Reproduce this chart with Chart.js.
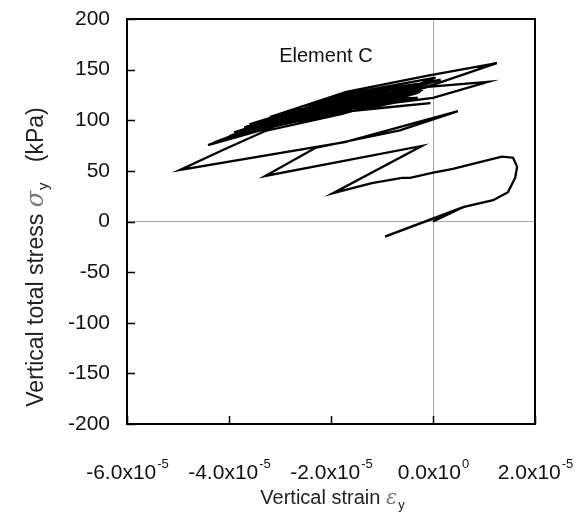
<!DOCTYPE html>
<html>
<head>
<meta charset="utf-8">
<script src="https://cdn.jsdelivr.net/npm/chart.js@4.4.0/dist/chart.umd.min.js"></script>
<style>
  html, body { margin: 0; padding: 0; background: #fff; }
</style>
</head>
<body>
<canvas id="chart" width="585" height="514"></canvas>
<script>
// vertical strain (x) and vertical total stress in kPa (y)
const strain = [
	0, 0.59e-5, -0.94e-5, 0.58e-5, -0.92e-5, 0.61e-5,
	1.18e-5, 1.47e-5, 1.61e-5, 1.65e-5, 1.57e-5, 1.35e-5, 0.86e-5, 0.39e-5,
	-0.02e-5, -0.45e-5, -0.61e-5, -1.2e-5, -1.96e-5,
	-0.22e-5, -3.29e-5, -2.31e-5, -0.65e-5, 0.49e-5, -1.73e-5,
	-4.96e-5, -4.12e-5, -3.29e-5,
	-1.8e-5, -0.3e-5, -1.9e-5, -3.8e-5,
	-2.0e-5, -0.1e-5, -2.2e-5, -4.41e-5,
	-2.6e-5, 0.1e-5, -1.5e-5, -3.5e-5,
	-1.7e-5, -0.6e-5, -2.0e-5, -3.0e-5,
	-1.2e-5, 0.05e-5, -1.8e-5, -4.0e-5,
	-2.2e-5, -0.2e-5, -1.4e-5, -2.8e-5,
	-1.5e-5, -0.05e-5, -2.0e-5, -3.3e-5,
	-1.6e-5, 0, 1.08e-5, -0.1e-5, -1.8e-5, -3.6e-5,
	-1.9e-5, 0, 1.25e-5, -0.1e-5, -1.7e-5, -3.2e-5,
	-2.0e-5, -0.4e-5, -2.4e-5,
	-1.0e-5, 0.15e-5, -2.0e-5, -3.9e-5,
	-1.5e-5, -0.5e-5, -2.6e-5, -3.4e-5,
	-2.1e-5, -0.3e-5, -1.2e-5, -2.9e-5,
	-1.0e-5, -0.15e-5, -1.6e-5, -3.7e-5,
	-2.5e-5, -0.7e-5, -2.3e-5, -4.2e-5,
	-2.2e-5, -0.8e-5, -2.7e-5, -3.6e-5,
	-1.3e-5, -0.4e-5, -1.9e-5, -3.1e-5,
	-1.1e-5, -0.25e-5, -2.4e-5, -4.3e-5,
	-2.8e-5, -0.9e-5, -1.8e-5, -3.4e-5,
	-2.0e-5
];
const stress = [
	0, 14, -15, 14, -14.5, 14.5,
	21, 29, 43, 54, 63, 64, 58, 52,
	48, 43, 43, 38, 28,
	74.6, 45, 72.6, 90, 109, 78.5,
	51, 70.6, 89.4,
	106, 127, 116, 86,
	108, 133, 117, 75.5,
	101, 139, 127, 95,
	111, 121, 113, 98,
	118, 142, 125, 84,
	104, 130, 122, 104,
	110, 117, 107, 92,
	112, 122, 138, 133, 120, 90,
	111, 135, 156.5, 144, 128, 103,
	112, 126, 106,
	128, 140, 118, 88,
	116, 131, 108, 99,
	110, 122, 121, 106,
	124, 137, 126, 93,
	100, 118, 113, 80,
	108, 126, 110, 96,
	120, 134, 121, 101,
	119, 128, 114, 78,
	99, 121, 116, 94,
	110
];

const xTicks = [-6e-5, -4e-5, -2e-5, 0, 2e-5];
const xTickBase = ['-6.0x10', '-4.0x10', '-2.0x10', '0.0x10', '2.0x10'];
const xTickExp = ['-5', '-5', '-5', '0', '-5'];
const yTicks = [-200, -150, -100, -50, 0, 50, 100, 150, 200];

const FONT = "'Liberation Sans', Arial, sans-serif";

const points = strain.map((v, i) => ({ x: v, y: stress[i] }));

function zeroGrid(ctx) {
	return ctx.tick && ctx.tick.value === 0 ? '#a8a8a8' : 'rgba(0,0,0,0)';
}

const frame = {
	id: 'frame',
	afterDraw(chart) {
		const c = chart.ctx;
		const a = chart.chartArea;
		const xs = chart.scales.x, ys = chart.scales.y;
		c.save();
		c.strokeStyle = '#000';
		c.lineWidth = 2;
		c.strokeRect(a.left, a.top, a.right - a.left, a.bottom - a.top);

		// ticks pointing into the plot
		c.lineWidth = 1.5;
		c.beginPath();
		yTicks.forEach(v => {
			const py = Math.round(ys.getPixelForValue(v)) + 0.5;
			c.moveTo(a.left, py);
			c.lineTo(a.left + 8, py);
		});
		xTicks.forEach(v => {
			const px = Math.round(xs.getPixelForValue(v)) + 0.5;
			c.moveTo(px, a.bottom);
			c.lineTo(px, a.bottom - 8);
		});
		c.stroke();

		// x tick labels with superscript exponent
		c.fillStyle = '#111';
		c.textBaseline = 'alphabetic';
		xTicks.forEach((v, i) => {
			c.font = '21px ' + FONT;
			const w1 = c.measureText(xTickBase[i]).width;
			c.font = '13px ' + FONT;
			const w2 = c.measureText(xTickExp[i]).width;
			const x0 = xs.getPixelForValue(v) - (w1 + w2) / 2;
			c.font = '21px ' + FONT;
			c.textAlign = 'left';
			c.fillText(xTickBase[i], x0, a.bottom + 55);
			c.font = '13px ' + FONT;
			c.fillText(xTickExp[i], x0 + w1 + 1, a.bottom + 44);
		});

		// x axis title
		drawTitle(c, (a.left + a.right) / 2 + 2, 504, 20, 'Vertical strain ', '\u03b5', '');

		// y axis title (rotated)
		c.save();
		c.translate(43, 257);
		c.rotate(-Math.PI / 2);
		drawTitle(c, 0, 0, 23, 'Vertical total stress ', '\u03c3', '   (kPa)');
		c.restore();

		// panel label
		c.font = '20px ' + FONT;
		c.fillStyle = '#111';
		c.textAlign = 'center';
		c.fillText('Element C', xs.getPixelForValue(-2.1e-5), ys.getPixelForValue(158));
		c.restore();
	}
};

function drawTitle(c, cx, baseY, size, head, sym, tail) {
	c.save();
	c.textAlign = 'left';
	c.textBaseline = 'alphabetic';
	const fHead = size + 'px ' + FONT;
	const fSym = 'italic ' + (size + 1) + 'px "DejaVu Serif", "Liberation Serif", serif';
	const fSub = Math.round(size * 0.64) + 'px ' + FONT;
	c.font = fHead; const w1 = c.measureText(head).width; const w4 = c.measureText(tail).width;
	c.font = fSym; const w2 = c.measureText(sym).width;
	c.font = fSub; const w3 = c.measureText('y').width;
	let x = cx - (w1 + w2 + w3 + 2 + w4) / 2;
	c.fillStyle = '#222';
	c.font = fHead; c.fillText(head, x, baseY); x += w1;
	c.fillStyle = '#777';
	c.font = fSym; c.fillText(sym, x, baseY); x += w2 + 1;
	c.fillStyle = '#222';
	c.font = fSub; c.fillText('y', x, baseY + 5); x += w3 + 1;
	c.font = fHead; c.fillText(tail, x, baseY);
	c.restore();
}

new Chart(document.getElementById('chart').getContext('2d'), {
	type: 'scatter',
	data: {
		datasets: [{
			data: points,
			showLine: true,
			borderColor: '#000',
			borderWidth: 2.3,
			pointRadius: 0,
			tension: 0,
			fill: false
		}]
	},
	options: {
		responsive: false,
		animation: false,
		devicePixelRatio: 1,
		layout: { padding: { top: 19, right: 50, left: 0, bottom: 0 } },
		plugins: {
			legend: { display: false },
			tooltip: { enabled: false }
		},
		scales: {
			x: {
				type: 'linear',
				min: -6e-5,
				max: 2e-5,
				afterBuildTicks: s => { s.ticks = xTicks.map(v => ({ value: v })); },
				afterFit: s => { s.height = 90; s.paddingLeft = 0; s.paddingRight = 0; },
				ticks: { display: false },
				grid: { color: zeroGrid, lineWidth: 1, drawTicks: false },
				border: { display: false }
			},
			y: {
				min: -200,
				max: 200,
				afterBuildTicks: s => { s.ticks = yTicks.map(v => ({ value: v })); },
				afterFit: s => { s.width = 127; s.paddingTop = 0; s.paddingBottom = 0; },
				ticks: { color: '#111', padding: 17, font: { size: 21, family: FONT } },
				grid: { color: zeroGrid, lineWidth: 1, drawTicks: false },
				border: { display: false }
			}
		}
	},
	plugins: [frame]
});
</script>
</body>
</html>
